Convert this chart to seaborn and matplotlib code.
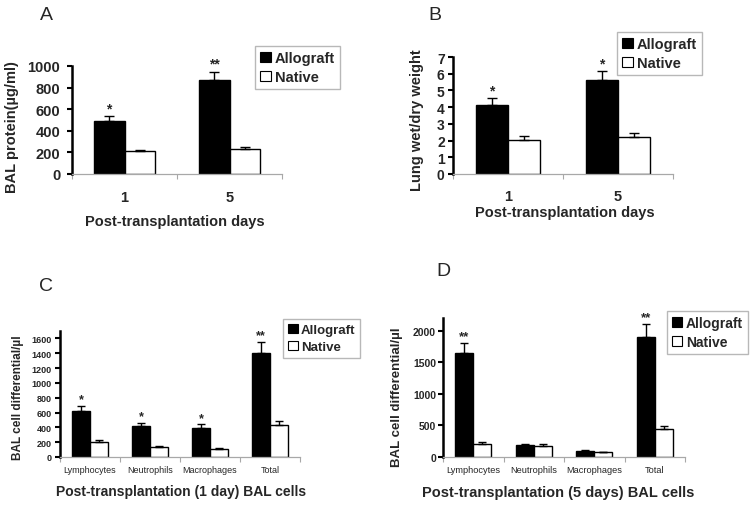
import numpy as np
import pandas as pd
import matplotlib
matplotlib.use("Agg")
import matplotlib.pyplot as plt
import seaborn as sns
from matplotlib.patches import Patch

# ---------------- data ----------------
days = ["1", "5"]
a_allo = [490, 874]
a_allo_err = [48, 74]
a_nat = [209, 228]
a_nat_err = [16, 21]
a_stars = ["*", "**"]

b_allo = [4.1, 5.6]
b_allo_err = [0.44, 0.58]
b_nat = [2.06, 2.24]
b_nat_err = [0.24, 0.20]
b_stars = ["*", "*"]

cells = ["Lymphocytes", "Neutrophils", "Macrophages", "Total"]
c_allo = [618, 412, 394, 1398]
c_allo_err = [68, 45, 45, 153]
c_nat = [206, 139, 108, 435]
c_nat_err = [18, 9, 13, 45]
c_stars = ["*", "*", "*", "**"]

d_allo = [1640, 190, 100, 1905]
d_allo_err = [165, 16, 5, 206]
d_nat = [206, 179, 74, 437]
d_nat_err = [31, 27, 10, 59]
d_stars = ["**", "", "", "**"]

groups = ["Allograft", "Native"]

# ---------------- style ----------------
sns.set_theme(style="white")
plt.rcParams["font.family"] = ["Liberation Sans", "DejaVu Sans"]

W, H = 750, 506
fig = plt.figure(figsize=(W / 100, H / 100), dpi=100)
fig.patch.set_facecolor("white")


def fx(x):
    return x / W


def fy(y):
    return 1 - y / H


def axes_px(l, t, r, b):
    return fig.add_axes([l / W, 1 - b / H, (r - l) / W, (b - t) / H])


def panel(ax, cats, allo, allo_err, nat, nat_err, stars, ylim, yticks,
          ytick_fs, xtick_fs, xtick_bold, xpad, ypad, ylabel, ylabel_fs,
          ylabel_pos, xlabel, xlabel_fs, xlabel_pos, leg_pos, leg_fs,
          star_fs, capsize):
    n = len(cats)
    df = pd.DataFrame({
        "cat": list(cats) * 2,
        "group": [groups[0]] * n + [groups[1]] * n,
        "value": list(allo) + list(nat),
    })
    sns.barplot(data=df, x="cat", y="value", hue="group",
                palette={"Allograft": "black", "Native": "white"},
                edgecolor="black", linewidth=1, width=0.59, saturation=1,
                errorbar=None, legend=False, ax=ax)
    for cont, vals, errs, s in zip(ax.containers[:2], [allo, nat],
                                   [allo_err, nat_err], [stars, None]):
        xs = [p.get_x() + p.get_width() / 2 for p in cont.patches]
        ax.errorbar(xs, vals, yerr=[np.zeros(n), errs], fmt="none",
                    ecolor="black", elinewidth=1, capsize=capsize,
                    capthick=1, clip_on=False, zorder=1)
        if s is not None:
            for x, v, e, st in zip(xs, vals, errs, s):
                if st:
                    ax.annotate(st, (x, v + e), xytext=(0, 0.5),
                                textcoords="offset points", ha="center",
                                va="bottom", fontsize=star_fs,
                                fontweight="bold", annotation_clip=False)
    ax.set_xlim(-0.5, n - 0.5)
    ax.set_ylim(*ylim)
    ax.set_yticks(yticks)
    ax.set_yticklabels([str(t) for t in yticks], fontsize=ytick_fs,
                       fontweight="bold")
    ax.set_xticks(range(n))
    ax.set_xticklabels(cats, fontsize=xtick_fs,
                       fontweight="bold" if xtick_bold else "normal")
    ax.set_xticks(np.arange(-0.5, n, 1.0), minor=True)
    ax.tick_params(axis="x", which="major", length=0, pad=xpad)
    ax.tick_params(axis="x", which="minor", length=3.5, width=0.8,
                   color="#a8a8a8", direction="out", bottom=True)
    ax.tick_params(axis="y", which="major", length=3.5, width=1.5,
                   color="black", direction="out", left=True, pad=ypad)
    for sp in ["top", "right"]:
        ax.spines[sp].set_visible(False)
    ax.spines["left"].set_color("black")
    ax.spines["left"].set_linewidth(1.8)
    ax.spines["bottom"].set_color("#a8a8a8")
    ax.spines["bottom"].set_linewidth(0.9)
    ax.set_facecolor("white")

    ax.set_ylabel(ylabel, fontsize=ylabel_fs, fontweight="bold")
    ax.yaxis.set_label_coords(fx(ylabel_pos[0]), fy(ylabel_pos[1]),
                              transform=fig.transFigure)
    ax.yaxis.label.set_verticalalignment("center")
    ax.set_xlabel(xlabel, fontsize=xlabel_fs, fontweight="bold")
    ax.xaxis.set_label_coords(fx(xlabel_pos[0]), fy(xlabel_pos[1]),
                              transform=fig.transFigure)
    ax.xaxis.label.set_verticalalignment("center")

    handles = [Patch(facecolor="black", edgecolor="black", linewidth=0.8),
               Patch(facecolor="white", edgecolor="black", linewidth=0.8)]
    leg = ax.legend(handles, groups, loc="upper left",
                    bbox_to_anchor=(fx(leg_pos[0]), fy(leg_pos[1])),
                    bbox_transform=fig.transFigure, frameon=True,
                    fancybox=False, edgecolor="#b8b8b8", framealpha=1,
                    prop={"weight": "bold", "size": leg_fs},
                    handlelength=0.75, handleheight=0.75, handletextpad=0.25,
                    borderpad=0.35, labelspacing=0.35, borderaxespad=0)
    leg.get_frame().set_linewidth(1.0)


# Panel A
axA = axes_px(72, 67, 282, 175)
panel(axA, days, a_allo, a_allo_err, a_nat, a_nat_err, a_stars,
      (0, 1000), [0, 200, 400, 600, 800, 1000], 10.5, 10.5, True, 11.5, 5,
      "BAL protein(\u00b5g/ml)", 10.5, (12, 127),
      "Post-transplantation days", 10.5, (175, 222), (255, 47), 10.5,
      10, 3.5)

# Panel B
axB = axes_px(453, 58, 673, 175)
panel(axB, days, b_allo, b_allo_err, b_nat, b_nat_err, b_stars,
      (0, 7), [0, 1, 2, 3, 4, 5, 6, 7], 10, 10.5, True, 10.5, 2.5,
      "Lung wet/dry weight", 10.5, (417, 120),
      "Post-transplantation days", 10.5, (565, 213), (617, 33), 10.5,
      10, 3.5)

# Panel C
axC = axes_px(60, 332, 300, 458)
panel(axC, cells, c_allo, c_allo_err, c_nat, c_nat_err, c_stars,
      (0, 1700), list(range(0, 1601, 200)), 6.5, 6.5, False, 5.5, 2.5,
      "BAL cell differential/\u00b5l", 8.5, (18, 398),
      "Post-transplantation (1 day) BAL cells", 10, (181, 492), (283, 320),
      9.5, 9, 3)

# Panel D
axD = axes_px(443, 319, 685, 458)
panel(axD, cells, d_allo, d_allo_err, d_nat, d_nat_err, d_stars,
      (0, 2200), [0, 500, 1000, 1500, 2000], 7.5, 6.7, False, 6, 1.5,
      "BAL cell differential/\u00b5l", 9.5, (397, 397),
      "Post-transplantation (5 days) BAL cells", 10.5, (558, 493),
      (667, 312), 10, 9.5, 3)

# Panel letters
for letter, (x, y) in zip(["A", "B", "C", "D"],
                          [(46, 15), (435, 16), (46, 287), (443, 271)]):
    fig.text(fx(x), fy(y), letter, fontsize=14, ha="center", va="center")

fig.savefig("out.png", dpi=100, facecolor="white")
